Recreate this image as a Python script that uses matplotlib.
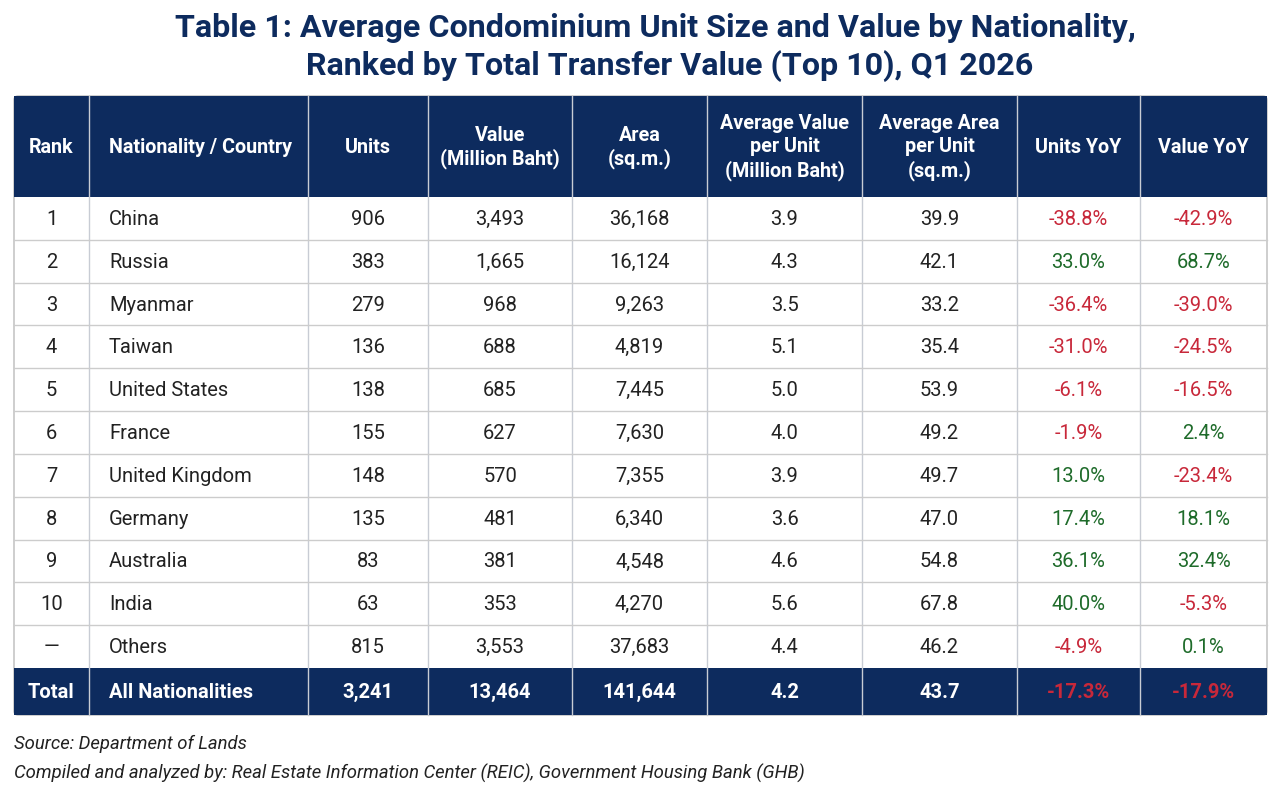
import matplotlib
matplotlib.use("Agg")
import matplotlib.pyplot as plt
from matplotlib.patches import Rectangle, FancyBboxPatch

plt.rcParams['font.family'] = ['Roboto', 'DejaVu Sans']

headers = ["Rank", "Nationality / Country", "Units", "Value\n(Million Baht)", "Area\n(sq.m.)",
           "Average Value\nper Unit\n(Million Baht)", "Average Area\nper Unit\n(sq.m.)", "Units YoY", "Value YoY"]
ranks = ["1", "2", "3", "4", "5", "6", "7", "8", "9", "10", "—"]
countries = ["China", "Russia", "Myanmar", "Taiwan", "United States", "France", "United Kingdom",
             "Germany", "Australia", "India", "Others"]
units = ["906", "383", "279", "136", "138", "155", "148", "135", "83", "63", "815"]
values = ["3,493", "1,665", "968", "688", "685", "627", "570", "481", "381", "353", "3,553"]
areas = ["36,168", "16,124", "9,263", "4,819", "7,445", "7,630", "7,355", "6,340", "4,548", "4,270", "37,683"]
avg_value = ["3.9", "4.3", "3.5", "5.1", "5.0", "4.0", "3.9", "3.6", "4.6", "5.6", "4.4"]
avg_area = ["39.9", "42.1", "33.2", "35.4", "53.9", "49.2", "49.7", "47.0", "54.8", "67.8", "46.2"]
units_yoy = [-38.8, 33.0, -36.4, -31.0, -6.1, -1.9, 13.0, 17.4, 36.1, 40.0, -4.9]
value_yoy = [-42.9, 68.7, -39.0, -24.5, -16.5, 2.4, -23.4, 18.1, 32.4, -5.3, 0.1]
total = ["Total", "All Nationalities", "3,241", "13,464", "141,644", "4.2", "43.7"]
total_yoy = [-17.3, -17.9]

W, H = 1280, 801
fig = plt.figure(figsize=(W/100, H/100), dpi=100)
ax = fig.add_axes([0, 0, 1, 1])
ax.set_xlim(0, W); ax.set_ylim(H, 0); ax.axis('off')

navy = "#0d2b5e"
red = "#c8283a"
green = "#1e6b2a"
cols = [14, 89, 308, 428, 572, 707, 862, 1017, 1140, 1267]
top, head_b, body_b, bot = 96, 197, 668, 715
nrows = len(ranks)
rh = (body_b - head_b) / nrows

ax.text(655, 28, "Table 1: Average Condominium Unit Size and Value by Nationality,", ha='center', va='center',
        fontsize=23.2, fontweight='bold', color=navy)
ax.text(670, 66, "Ranked by Total Transfer Value (Top 10), Q1 2026", ha='center', va='center',
        fontsize=23.2, fontweight='bold', color=navy)

ax.add_patch(FancyBboxPatch((cols[0], top), cols[-1]-cols[0], bot-top, boxstyle="round,pad=0,rounding_size=4",
                            facecolor='white', edgecolor='#bbbbbb', lw=1))
ax.add_patch(Rectangle((cols[0], top), cols[-1]-cols[0], head_b-top, facecolor=navy, edgecolor='none'))
ax.add_patch(Rectangle((cols[0], body_b), cols[-1]-cols[0], bot-body_b, facecolor=navy, edgecolor='none'))
for x in cols[1:-1]:
    ax.plot([x, x], [top, bot], color='#c8ccd4', lw=1)
for i in range(1, nrows):
    y = head_b + i*rh
    ax.plot([cols[0], cols[-1]], [y, y], color='#cccccc', lw=1)

def cx(j):
    return (cols[j] + cols[j+1]) / 2

for j, h in enumerate(headers):
    x = cols[1] + 20 if j == 1 else cx(j)
    ax.text(x, (top+head_b)/2 + 1, h, ha='left' if j == 1 else 'center', va='center', color='white',
            fontsize=14.2, fontweight='bold', linespacing=1.25)

def fmt(v):
    return f"{v:.1f}%"

for i in range(nrows):
    y = head_b + (i+0.5)*rh + 1
    row = [ranks[i], countries[i], units[i], values[i], areas[i], avg_value[i], avg_area[i]]
    for j, t in enumerate(row):
        x = cols[1] + 20 if j == 1 else cx(j)
        ax.text(x, y, t, ha='left' if j == 1 else 'center', va='center', fontsize=14.5, color='#222222')
    for j, v in zip((7, 8), (units_yoy[i], value_yoy[i])):
        ax.text(cx(j), y, fmt(v), ha='center', va='center', fontsize=14.5, color=red if v < 0 else green)

y = (body_b + bot) / 2 + 1
for j, t in enumerate(total):
    x = cols[1] + 20 if j == 1 else cx(j)
    ax.text(x, y, t, ha='left' if j == 1 else 'center', va='center', fontsize=14.5, color='white', fontweight='bold')
for j, v in zip((7, 8), total_yoy):
    ax.text(cx(j), y, fmt(v), ha='center', va='center', fontsize=14.5, color=red if v < 0 else green, fontweight='bold')

ax.text(14, 744, "Source: Department of Lands", ha='left', va='center', fontsize=13.3, style='italic', color='#222222')
ax.text(14, 773, "Compiled and analyzed by: Real Estate Information Center (REIC), Government Housing Bank (GHB)",
        ha='left', va='center', fontsize=13.3, style='italic', color='#222222')

fig.savefig("out.png", dpi=100)
